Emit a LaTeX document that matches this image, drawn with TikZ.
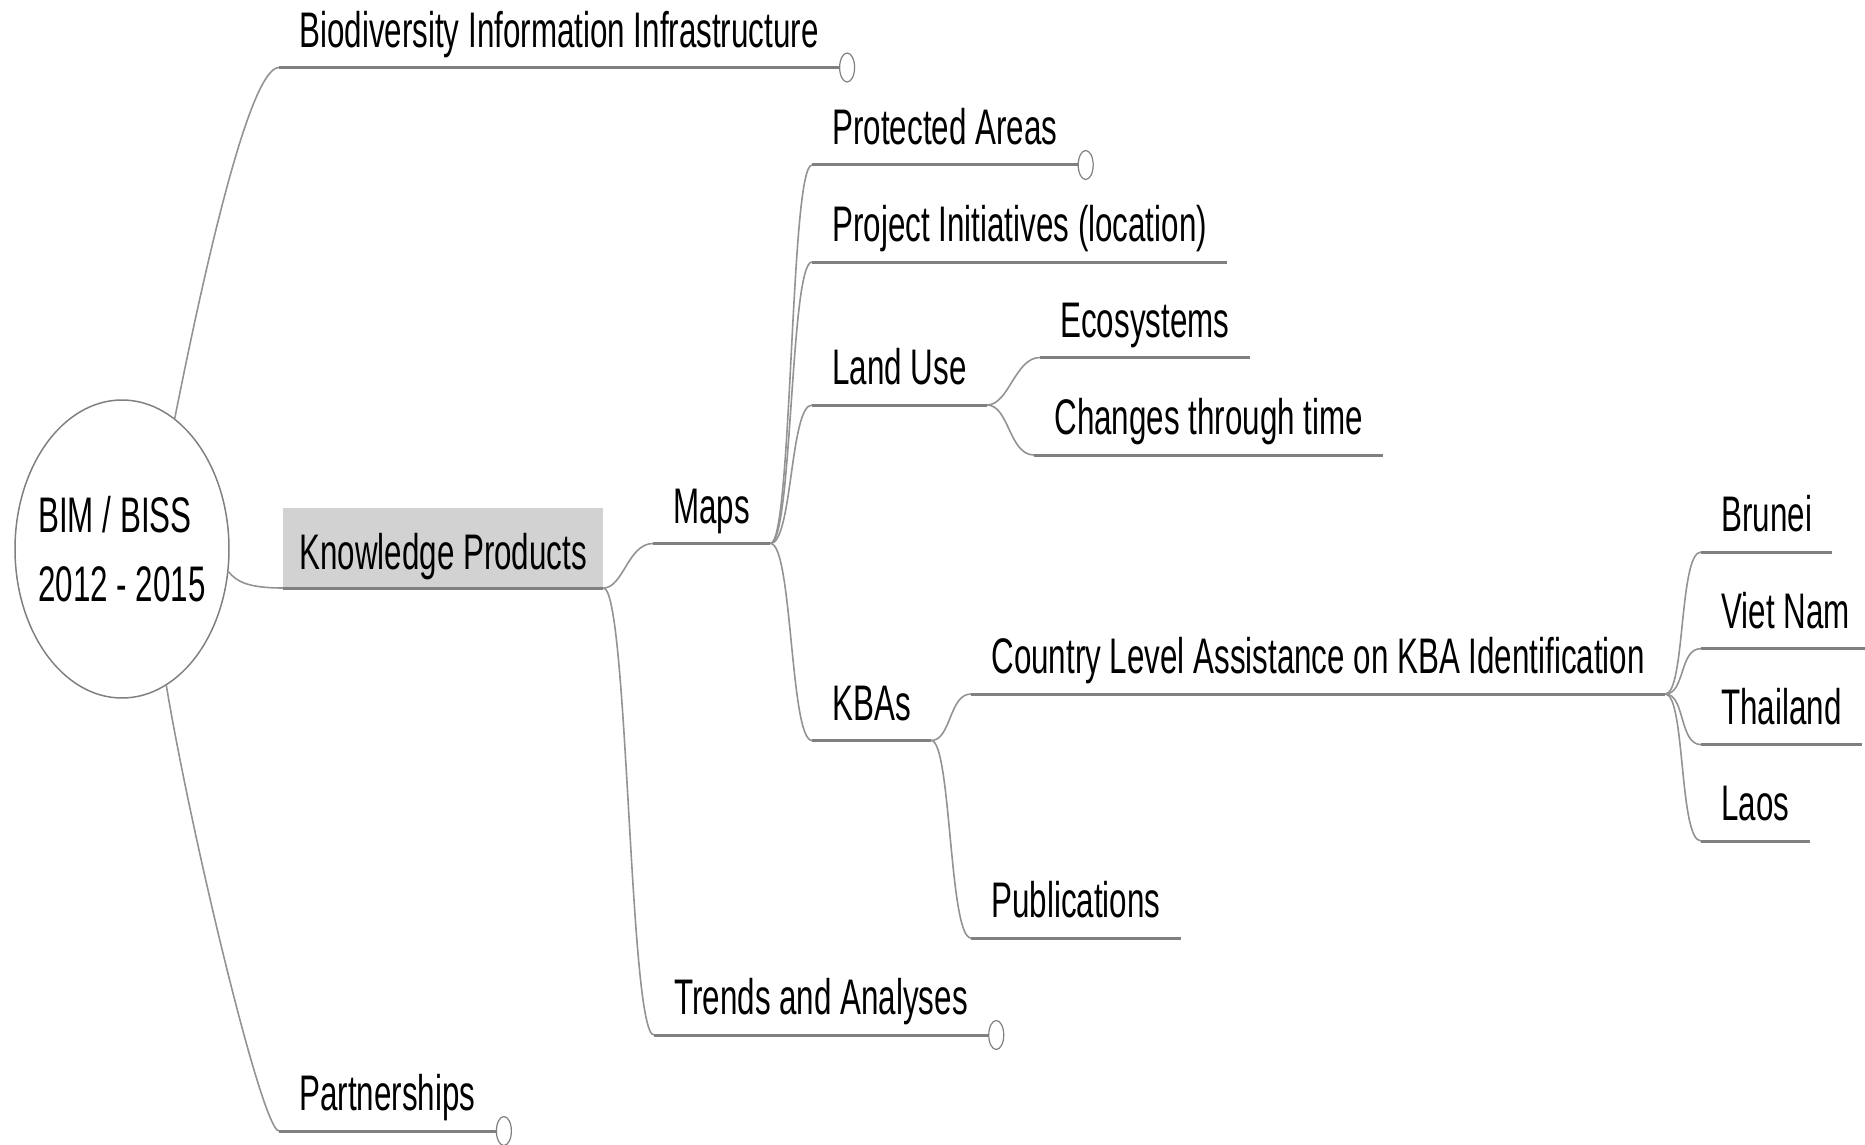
\documentclass[tikz,border=0pt]{standalone}
\usepackage{fontspec}
\setmainfont{Liberation Sans}[FakeStretch=0.627]
\usepackage{tikz}
\usetikzlibrary{shapes.geometric,positioning}

\begin{document}
\begin{tikzpicture}[
		x=0.5pt, y=-0.5pt,
		font=\fontsize{25pt}{30pt}\selectfont,
		topic/.style={
			anchor=south west,
			inner xsep=10pt,
			inner ysep=10pt,
			text height=18pt,
			text depth=0pt
		},
		kpbox/.style={
			topic,
			fill=gray!35,
			inner xsep=8pt,
			inner ysep=9pt,
			text height=22pt
		},
		hub/.style={
			ellipse,
			draw=gray,
			line width=0.75pt,
			minimum width=107pt,
			minimum height=149pt,
			inner xsep=-5pt,
			inner ysep=0pt,
			align=left,
			font=\fontsize{25pt}{34.5pt}\selectfont
		},
		knob/.style={
			ellipse,
			draw=gray,
			fill=white,
			line width=0.6pt,
			minimum width=7.5pt,
			minimum height=14.5pt,
			inner sep=0pt,
			anchor=west
		},
		uline/.style={
			draw=gray,
			line width=1.5pt
		},
		link/.style={
			draw=gray!85,
			line width=0.8pt
		}
		]
		\useasboundingbox (0,0) rectangle (1865,1145);
		
		% central topic
		\node [hub] (root) at (122,549) {BIM / BISS\\2012 - 2015};
		
		% first level
		\node [topic] (bii) at (279,67.5) {Biodiversity Information Infrastructure};
		\node [kpbox] (kp) at (283,588) {Knowledge Products};
		\node [topic] (partner) at (279,1131) {Partnerships};
		
		% knowledge products
		\node [topic] (maps) at (653,543.5) {Maps};
		\node [topic] (trends) at (654,1035) {Trends and Analyses};
		
		% maps
		\node [topic] (protected) at (812,165) {Protected Areas};
		\node [topic] (project) at (812,262) {Project Initiatives (location)};
		\node [topic] (landuse) at (812,405) {Land Use};
		\node [topic] (kbas) at (812,740.5) {KBAs};
		
		\node [topic] (eco) at (1040,357.5) {Ecosystems};
		\node [topic] (changes) at (1034,455) {Changes through time};
		
		\node [topic] (country) at (971,694) {Country Level Assistance on KBA Identification};
		\node [topic] (pubs) at (971,938) {Publications};
		
		\node [topic] (brunei) at (1701,552) {Brunei};
		\node [topic] (vietnam) at (1701,648.6) {Viet Nam};
		\node [topic] (thailand) at (1701,744.6) {Thailand};
		\node [topic] (laos) at (1701,841) {Laos};
		
		% connectors
		\draw [link] (root.68) .. controls +(25,-126) and +(-31,0) .. (bii.south west);
		\draw [link] (root.-12) .. controls +(8,10) and +(-35,0) .. (kp.south west);
		\draw [link] (root.-72) .. controls +(24,145) and +(-17,0) .. (partner.south west);
		
		\draw [link] (kp.south east) .. controls +(20,0) and +(-25,0) .. (maps.south west);
		\draw [link] (kp.south east) .. controls +(25,0) and +(-25,0) .. (trends.south west);
		
		\draw [link] (maps.south east) .. controls +(22,0) and +(-22,0) .. (protected.south west);
		\draw [link] (maps.south east) .. controls +(22,0) and +(-22,0) .. (project.south west);
		\draw [link] (maps.south east) .. controls +(22,0) and +(-22,0) .. (landuse.south west);
		\draw [link] (maps.south east) .. controls +(22,0) and +(-22,0) .. (kbas.south west);
		
		\draw [link] (landuse.south east) .. controls +(22,0) and +(-25,0) .. (eco.south west);
		\draw [link] (landuse.south east) .. controls +(22,0) and +(-25,0) .. (changes.south west);
		
		\draw [link] (kbas.south east) .. controls +(20,0) and +(-22,0) .. (country.south west);
		\draw [link] (kbas.south east) .. controls +(20,0) and +(-22,0) .. (pubs.south west);
		
		\draw [link] (country.south east) .. controls +(20,0) and +(-22,0) .. (brunei.south west);
		\draw [link] (country.south east) .. controls +(20,0) and +(-22,0) .. (vietnam.south west);
		\draw [link] (country.south east) .. controls +(20,0) and +(-22,0) .. (thailand.south west);
		\draw [link] (country.south east) .. controls +(20,0) and +(-22,0) .. (laos.south west);
		
		% underlines
		\draw [uline] (bii.south west) -- (bii.south east);
		\draw [uline] (kp.south west) -- (kp.south east);
		\draw [uline] (partner.south west) -- (partner.south east);
		\draw [uline] (maps.south west) -- (maps.south east);
		\draw [uline] (trends.south west) -- (trends.south east);
		\draw [uline] (protected.south west) -- (protected.south east);
		\draw [uline] (project.south west) -- (project.south east);
		\draw [uline] (landuse.south west) -- (landuse.south east);
		\draw [uline] (kbas.south west) -- (kbas.south east);
		\draw [uline] (eco.south west) -- (eco.south east);
		\draw [uline] (changes.south west) -- (changes.south east);
		\draw [uline] (country.south west) -- (country.south east);
		\draw [uline] (pubs.south west) -- (pubs.south east);
		\draw [uline] (brunei.south west) -- (brunei.south east);
		\draw [uline] (vietnam.south west) -- (vietnam.south east);
		\draw [uline] (thailand.south west) -- (thailand.south east);
		\draw [uline] (laos.south west) -- (laos.south east);
		
		% collapsed markers
		\node [knob] (biiknob) at (bii.south east) {};
		\node [knob] (protectedknob) at (protected.south east) {};
		\node [knob] (trendsknob) at (trends.south east) {};
		\node [knob] (partnerknob) at (partner.south east) {};
		
\end{tikzpicture}
\end{document}
